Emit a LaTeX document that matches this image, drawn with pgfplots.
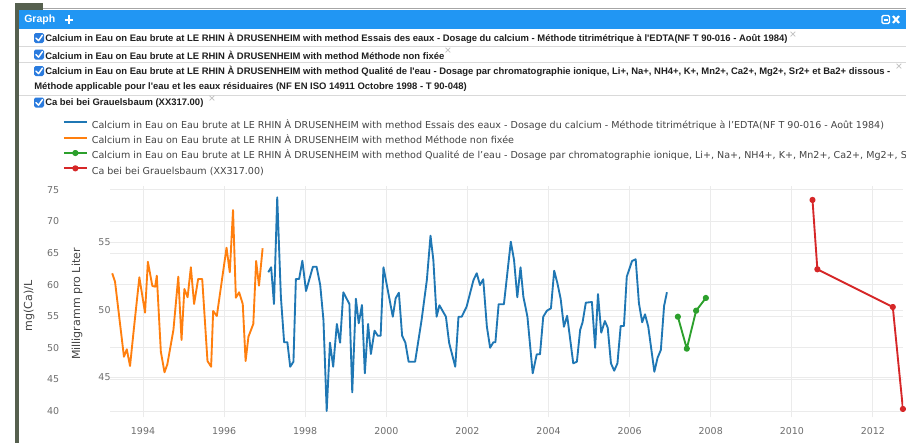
\documentclass[border=0pt]{standalone}
\usepackage{fontspec}
\setmainfont{DejaVu Sans}
\newfontfamily\hdr{Liberation Sans}
\usepackage{pgfplots}
\pgfplotsset{compat=1.18}
\definecolor{pblue}{HTML}{1F77B4}
\definecolor{porange}{HTML}{FF7F0E}
\definecolor{pgreen}{HTML}{2CA02C}
\definecolor{pred}{HTML}{D62728}
\definecolor{hbar}{HTML}{2196F3}
\definecolor{gridc}{HTML}{EBEBEB}
\definecolor{tickc}{HTML}{6E6E6E}
\definecolor{txtc}{HTML}{444444}
\definecolor{cboxc}{HTML}{2A7BDE}
\definecolor{stripc}{HTML}{56604F}
\newcommand\cbox[1]{%
  \fill[cboxc, rounded corners=1.2] (34,{#1-5}) rectangle (44,{#1+5});
  \draw[white, line width=1.1pt, line cap=round, line join=round] (36,{#1+0.2}) -- (38.6,{#1+2.6}) -- (42.4,{#1-2.8});}
\begin{document}
\begin{tikzpicture}
\useasboundingbox (0,0) rectangle (679.5pt,-332.25pt);
\clip (0,0) rectangle (679.5pt,-332.25pt);
\begin{scope}[x=0.75pt,y=-0.75pt]
\fill[white] (0,0) rectangle (906,443);
\fill[stripc] (15,3) rectangle (43,10);
\fill[stripc] (15,3) rectangle (19,443);
\draw[black!35, line width=0.75pt] (43,8.5) -- (906,8.5);
% header bar
\fill[hbar] (19,9.5) rectangle (906,29);
\node[anchor=west, inner sep=0, text=white, font=\hdr\bfseries\fontsize{7.9}{9}\selectfont] at (24,20) {Graph};
\draw[white, line width=1.5pt] (64.5,19.5) -- (73,19.5) (68.75,15.3) -- (68.75,23.7);
\draw[white, line width=1pt, rounded corners=1] (882,15.5) rectangle (889.5,23.5);
\draw[white, line width=1.2pt] (883.8,19.8) -- (887.7,19.8);
\draw[white, line width=1.6pt] (893,16) -- (899,23) (893,23) -- (899,16);
% rows
\draw[black!15, line width=0.75pt] (19,46) -- (906,46) (19,62.5) -- (906,62.5) (19,95) -- (906,95);
\cbox{38}\cbox{54.5}\cbox{71}\cbox{102.5}
\begin{scope}[every node/.style={anchor=west, inner sep=0, text=black!88, font=\hdr\bfseries\fontsize{7.09}{8.5}\selectfont}]
\node at (45,38.5) {Calcium in Eau on Eau brute at LE RHIN À DRUSENHEIM with method Essais des eaux - Dosage du calcium - Méthode titrimétrique à l'EDTA(NF T 90-016 - Août 1984)};
\node at (45,55) {Calcium in Eau on Eau brute at LE RHIN À DRUSENHEIM with method Méthode non fixée};
\node at (45,71.5) {Calcium in Eau on Eau brute at LE RHIN À DRUSENHEIM with method Qualité de l'eau - Dosage par chromatographie ionique, Li+, Na+, NH4+, K+, Mn2+, Ca2+, Mg2+, Sr2+ et Ba2+ dissous -};
\node at (34,87.5) {Méthode applicable pour l'eau et les eaux résiduaires (NF EN ISO 14911 Octobre 1998 - T 90-048)};
\node at (45,103) {Ca bei bei Grauelsbaum (XX317.00)};
\end{scope}
\begin{scope}[every node/.style={inner sep=0, text=black!28, font=\fontsize{7}{8}\selectfont}]
\node at (793,35) {×};
\node at (448,51) {×};
\node at (899,67) {×};
\node at (212,99) {×};
\end{scope}
\end{scope}
% second axis (Milligramm pro Liter)
\begin{axis}[
  at={(82.5pt,-312.75pt)}, anchor=south west, scale only axis,
  width=594.75pt, height=173.25pt,
  xmin=1993.186, xmax=2012.742, ymin=42.074, ymax=59.185,
  axis line style={draw=none}, major tick length=0pt,
  xtick=\empty, ytick={45,50,55}, ymajorgrids,
  grid style={gridc, line width=0.75pt},
  /pgf/number format/assume math mode=true,
  yticklabel style={font=\fontsize{7.1}{8}\selectfont, text=tickc, inner sep=0pt, anchor=east, xshift=0.6pt},
  ylabel={Milligramm pro Liter},
  every axis y label/.style={at={(rel axis cs:-0.0416,0.489)}, rotate=90, anchor=center, font=\fontsize{8.3}{10}\selectfont, text=txtc},
]
\end{axis}
% main axis (mg(Ca)/L)
\begin{axis}[
  at={(82.5pt,-312.75pt)}, anchor=south west, scale only axis,
  width=594.75pt, height=173.25pt,
  xmin=1993.186, xmax=2012.742, ymin=39.05, ymax=75.63,
  axis line style={draw=none}, major tick length=0pt,
  xtick={1994,1996,...,2012}, ytick={40,45,...,75},
  xmajorgrids, ymajorgrids,
  grid style={gridc, line width=0.75pt},
  /pgf/number format/assume math mode=true,
  /pgf/number format/1000 sep={},
  xticklabel style={font=\fontsize{7.1}{8}\selectfont, text=tickc, inner sep=0pt, anchor=north, yshift=-7.9pt},
  yticklabel style={font=\fontsize{7.1}{8}\selectfont, text=tickc, inner sep=0pt, anchor=east, xshift=-38pt},
  ylabel={mg(Ca)/L},
  every axis y label/.style={at={(rel axis cs:-0.1021,0.4805)}, rotate=90, anchor=center, font=\fontsize{8.3}{10}\selectfont, text=txtc},
  legend cell align=left,
  legend image code/.code={\draw[#1, mark repeat=2, mark phase=2] plot coordinates {(0pt,2.4pt) (8.6pt,2.4pt) (17.25pt,2.4pt)};},
  legend style={draw=none, fill=none, inner sep=0pt, outer sep=0pt,
    at={(rel axis cs:-0.0593,1.2848)}, anchor=north west,
    font=\fontsize{7.17}{8}\selectfont, text=txtc,
    row sep=3.5pt, column sep=3pt,
    nodes={inner sep=0pt, text height=6pt, text depth=2pt}},
  every axis plot/.append style={line width=1.4pt, line join=round},
]
\addplot[pblue] coordinates {
(1997.09,61.97) (1997.16,62.76) (1997.23,56.94) (1997.31,73.84) (1997.40,58.10) (1997.48,50.88) (1997.56,50.88) (1997.63,47.01) (1997.71,47.81) (1997.77,60.90) (1997.85,60.90) (1997.93,63.80) (1998.02,59.00) (1998.19,62.85) (1998.28,62.85) (1998.37,59.95) (1998.45,54.41) (1998.53,40.00) (1998.61,50.82) (1998.69,47.01) (1998.78,53.78) (1998.86,50.82) (1998.94,58.80) (1999.09,56.94) (1999.16,42.96) (1999.25,57.78) (1999.32,53.89) (1999.40,56.79) (1999.47,45.97) (1999.55,53.78) (1999.62,49.03) (1999.71,52.72) (1999.79,51.92) (1999.86,51.92) (1999.93,62.76) (2000.16,54.93) (2000.23,57.85) (2000.31,58.73) (2000.39,51.92) (2000.47,50.82) (2000.55,47.81) (2000.71,47.81) (2000.87,54.41) (2001.00,60.75) (2001.09,67.76) (2001.16,63.91) (2001.24,54.93) (2001.31,56.74) (2001.47,54.93) (2001.55,50.77) (2001.70,47.01) (2001.78,54.93) (2001.86,54.93) (2001.98,56.52) (2002.15,60.75) (2002.23,61.81) (2002.31,59.95) (2002.39,60.86) (2002.48,53.35) (2002.56,50.02) (2002.64,50.88) (2002.69,50.88) (2002.77,56.90) (2002.90,56.90) (2003.07,66.81) (2003.15,63.91) (2003.23,58.01) (2003.31,62.76) (2003.38,58.10) (2003.48,54.93) (2003.61,45.97) (2003.71,48.98) (2003.79,48.98) (2003.87,54.93) (2003.96,55.88) (2004.06,56.26) (2004.14,62.22) (2004.22,60.22) (2004.30,57.74) (2004.38,53.35) (2004.46,55.09) (2004.61,47.55) (2004.70,47.81) (2004.78,52.83) (2004.84,54.05) (2004.92,57.15) (2005.07,57.26) (2005.15,50.02) (2005.22,58.53) (2005.30,52.40) (2005.39,54.25) (2005.46,53.19) (2005.54,47.55) (2005.62,46.38) (2005.70,47.55) (2005.78,53.46) (2005.86,53.46) (2005.93,61.27) (2006.06,63.76) (2006.15,64.02) (2006.23,57.06) (2006.31,54.05) (2006.38,55.31) (2006.46,53.35) (2006.61,46.22) (2006.69,48.44) (2006.77,49.66) (2006.85,56.63) (2006.92,58.80)
};
\addlegendentry{Calcium in Eau on Eau brute at LE RHIN À DRUSENHEIM with method Essais des eaux - Dosage du calcium - Méthode titrimétrique à l'EDTA(NF T 90-016 - Août 1984)}
\addplot[porange] coordinates {
(1993.24,61.81) (1993.31,60.48) (1993.53,48.60) (1993.60,49.77) (1993.68,47.13) (1993.78,53.35) (1993.91,61.17) (1994.05,55.57) (1994.12,63.64) (1994.23,59.80) (1994.30,59.69) (1994.34,61.43) (1994.44,49.39) (1994.53,46.13) (1994.60,47.39) (1994.75,52.83) (1994.87,61.27) (1994.95,51.24) (1995.02,59.32) (1995.10,58.01) (1995.18,62.76) (1995.26,56.95) (1995.36,60.90) (1995.46,60.90) (1995.59,47.92) (1995.68,47.01) (1995.73,55.84) (1995.82,55.04) (1996.06,65.86) (1996.14,61.97) (1996.22,71.83) (1996.29,57.94) (1996.37,58.80) (1996.46,56.94) (1996.53,47.92) (1996.60,51.77) (1996.72,53.78) (1996.79,63.76) (1996.86,59.84) (1996.95,65.77)
};
\addlegendentry{Calcium in Eau on Eau brute at LE RHIN À DRUSENHEIM with method Méthode non fixée}
\addplot[pgreen, mark=*, mark size=1.6pt] coordinates {
(2007.19,54.93) (2007.41,49.87) (2007.64,55.88) (2007.88,57.90)
};
\addlegendentry{Calcium in Eau on Eau brute at LE RHIN À DRUSENHEIM with method Qualité de l'eau - Dosage par chromatographie ionique, Li+, Na+, NH4+, K+, Mn2+, Ca2+, Mg2+, Sr2+ et Ba2+ dissous - Méthode applicable pour l'eau et les eaux résiduaires (NF EN ISO 14911 Octobre 1998 - T 90-048)}
\addplot[pred, mark=*, mark size=1.6pt] coordinates {
(2010.51,73.42) (2010.63,62.44) (2012.49,56.47) (2012.74,40.32)
};
\addlegendentry{Ca bei bei Grauelsbaum (XX317.00)}
\end{axis}
\end{tikzpicture}
\end{document}
